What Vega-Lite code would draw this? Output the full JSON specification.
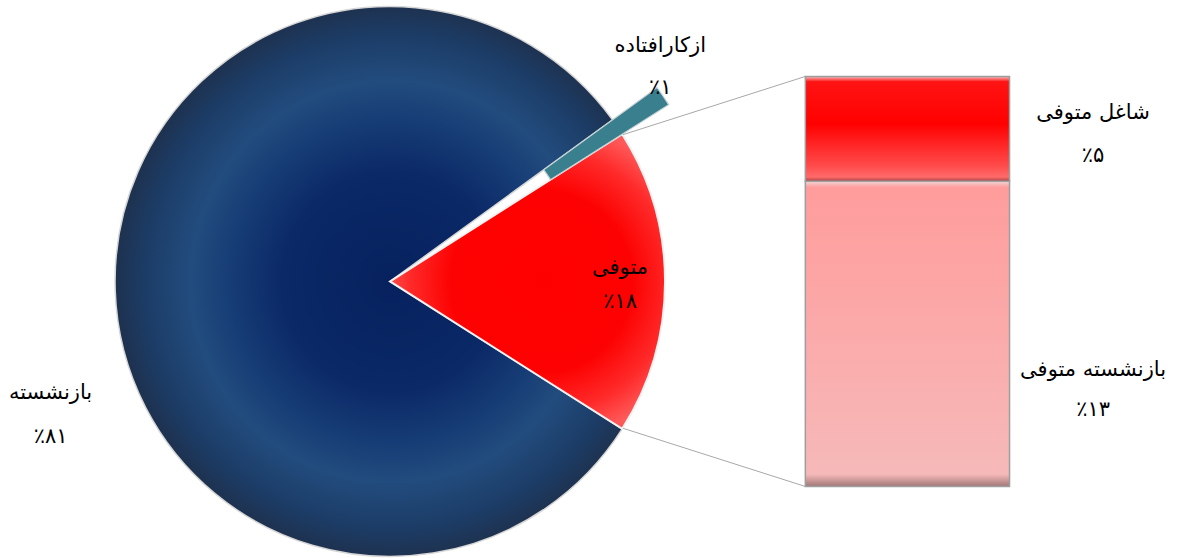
{
  "$schema": "https://vega.github.io/schema/vega-lite/v6.json",
  "width": 1181,
  "height": 558,
  "padding": 0,
  "autosize": {"type": "fit", "contains": "padding"},
  "background": "white",
  "config": {"view": {"stroke": null}, "text": {"font": "DejaVu Sans"}},
  "datasets": {
    "pie": [
      {"name": "ازکارافتاده", "value": 1, "label": "٪۱"},
      {"name": "متوفی", "value": 18, "label": "٪۱۸"},
      {"name": "بازنشسته", "value": 81, "label": "٪۸۱"}
    ],
    "bar": [
      {"name": "بازنشسته متوفی", "value": 13.4, "label": "٪۱۳"},
      {"name": "شاغل متوفی", "value": 4.6, "label": "٪۵"}
    ]
  },
  "layer": [
    {
      "data": {"name": "pie"},
      "transform": [
        {"stack": "value", "groupby": [], "sort": [{"field": "value", "order": "ascending"}], "as": ["t0", "t1"]},
        {"filter": "datum.name === 'بازنشسته'"}
      ],
      "mark": {
        "type": "arc", "outerRadius": 275, "stroke": "#d6d6d6", "strokeWidth": 1.5,
        "fill": {"gradient": "radial", "x1": 0.542, "y1": 0.5, "r1": 0, "x2": 0.542, "y2": 0.5, "r2": 0.5,
          "stops": [
            {"offset": 0, "color": "#06215e"},
            {"offset": 0.4, "color": "#0b2967"},
            {"offset": 0.58, "color": "#163c75"},
            {"offset": 0.73, "color": "#224c7e"},
            {"offset": 0.9, "color": "#1c3c66"},
            {"offset": 1, "color": "#1e3250"}
          ]}
      },
      "encoding": {
        "x": {"datum": 17, "type": "quantitative", "scale": {"domain": [0, 51.473], "nice": false, "zero": false}, "axis": null},
        "y": {"datum": 9, "type": "quantitative", "scale": {"domain": [-2.964, 21.356], "nice": false, "zero": false}, "axis": null},
        "theta": {"field": "t0", "type": "quantitative", "scale": {"domain": [0, 100], "range": [0.9425, 7.2257]}},
        "theta2": {"field": "t1"}
      }
    },
    {
      "data": {"name": "pie"},
      "transform": [
        {"stack": "value", "groupby": [], "sort": [{"field": "value", "order": "ascending"}], "as": ["t0", "t1"]},
        {"filter": "datum.name === 'متوفی'"}
      ],
      "mark": {
        "type": "arc", "outerRadius": 275, "stroke": "#f2f2f2", "strokeWidth": 2,
        "fill": {"gradient": "radial", "x1": 0.547, "y1": 0.5, "r1": 0, "x2": 0.547, "y2": 0.5, "r2": 0.62,
          "stops": [
            {"offset": 0, "color": "#ff0000"},
            {"offset": 0.5, "color": "#fd0202"},
            {"offset": 0.72, "color": "#ff2a2a"},
            {"offset": 0.88, "color": "#ff5a5a"},
            {"offset": 1, "color": "#f04848"}
          ]}
      },
      "encoding": {
        "x": {"datum": 17, "type": "quantitative", "scale": {"domain": [0, 51.473], "nice": false, "zero": false}, "axis": null},
        "y": {"datum": 9, "type": "quantitative", "scale": {"domain": [-2.964, 21.356], "nice": false, "zero": false}, "axis": null},
        "theta": {"field": "t0", "type": "quantitative", "scale": {"domain": [0, 100], "range": [0.9425, 7.2257]}},
        "theta2": {"field": "t1"}
      }
    },
    {
      "data": {"name": "pie"},
      "transform": [
        {"stack": "value", "groupby": [], "sort": [{"field": "value", "order": "ascending"}], "as": ["t0", "t1"]},
        {"filter": "datum.name === 'ازکارافتاده'"}
      ],
      "mark": {"type": "arc", "outerRadius": 330, "innerRadius": 190, "fill": "#3a7f8e", "stroke": "#c9d3d6", "strokeWidth": 1.2},
      "encoding": {
        "x": {"datum": 17, "type": "quantitative", "scale": {"domain": [0, 51.473], "nice": false, "zero": false}, "axis": null},
        "y": {"datum": 9, "type": "quantitative", "scale": {"domain": [-2.964, 21.356], "nice": false, "zero": false}, "axis": null},
        "theta": {"field": "t0", "type": "quantitative", "scale": {"domain": [0, 100], "range": [0.9425, 7.2257]}},
        "theta2": {"field": "t1"}
      }
    },
    {
      "data": {"name": "pie"},
      "transform": [
        {"stack": "value", "groupby": [], "sort": [{"field": "value", "order": "ascending"}], "as": ["t0", "t1"]},
        {"filter": "datum.name === 'متوفی'"},
        {"fold": ["t0", "t1"], "as": ["edge", "t"]},
        {"calculate": "0.9425 + 2 * PI * datum.t / 100", "as": "ang"},
        {"calculate": "17 + 12.03 * sin(datum.ang)", "as": "px"},
        {"calculate": "9 + 12.03 * cos(datum.ang)", "as": "py"},
        {"calculate": "datum.edge === 't0' ? datum.value : 0", "as": "by"}
      ],
      "mark": {"type": "rule", "color": "#a8a8a8", "strokeWidth": 1},
      "encoding": {
        "x": {"field": "px", "type": "quantitative", "scale": {"domain": [0, 51.473], "nice": false, "zero": false}, "axis": null},
        "y": {"field": "py", "type": "quantitative", "scale": {"domain": [-2.964, 21.356], "nice": false, "zero": false}, "axis": null},
        "x2": {"datum": 35.1},
        "y2": {"field": "by"}
      }
    },
    {
      "data": {"name": "bar"},
      "transform": [
        {"stack": "value", "groupby": [], "sort": [{"field": "value", "order": "descending"}], "as": ["b0", "b1"]},
        {"filter": "datum.name === 'بازنشسته متوفی'"}
      ],
      "mark": {
        "type": "rect", "stroke": "#9e9e9e", "strokeWidth": 1.5,
        "fill": {"gradient": "linear", "x1": 0, "y1": 0, "x2": 0, "y2": 1,
          "stops": [
            {"offset": 0, "color": "#eed6d6"},
            {"offset": 0.02, "color": "#ff9c9c"},
            {"offset": 0.5, "color": "#fbaaaa"},
            {"offset": 0.96, "color": "#f6b9b9"},
            {"offset": 1, "color": "#a07676"}
          ]}
      },
      "encoding": {
        "x": {"datum": 35.1, "type": "quantitative", "scale": {"domain": [0, 51.473], "nice": false, "zero": false}, "axis": null},
        "x2": {"datum": 44},
        "y": {"field": "b0", "type": "quantitative", "scale": {"domain": [-2.964, 21.356], "nice": false, "zero": false}, "axis": null},
        "y2": {"field": "b1"}
      }
    },
    {
      "data": {"name": "bar"},
      "transform": [
        {"stack": "value", "groupby": [], "sort": [{"field": "value", "order": "descending"}], "as": ["b0", "b1"]},
        {"filter": "datum.name === 'شاغل متوفی'"}
      ],
      "mark": {
        "type": "rect", "stroke": "#9e9e9e", "strokeWidth": 1.5,
        "fill": {"gradient": "linear", "x1": 0, "y1": 0, "x2": 0, "y2": 1,
          "stops": [
            {"offset": 0, "color": "#f4c0c0"},
            {"offset": 0.05, "color": "#ff1414"},
            {"offset": 0.45, "color": "#ff0000"},
            {"offset": 0.85, "color": "#ff4a4a"},
            {"offset": 0.96, "color": "#ff6a6a"},
            {"offset": 1, "color": "#a84040"}
          ]}
      },
      "encoding": {
        "x": {"datum": 35.1, "type": "quantitative", "scale": {"domain": [0, 51.473], "nice": false, "zero": false}, "axis": null},
        "x2": {"datum": 44},
        "y": {"field": "b0", "type": "quantitative", "scale": {"domain": [-2.964, 21.356], "nice": false, "zero": false}, "axis": null},
        "y2": {"field": "b1"}
      }
    },
    {
      "data": {"name": "pie"},
      "transform": [
        {"stack": "value", "groupby": [], "sort": [{"field": "value", "order": "ascending"}], "as": ["t0", "t1"]},
        {"calculate": "(datum.t0 + datum.t1) / 2", "as": "mid"},
        {"calculate": "datum.name + '\\n' + datum.label", "as": "txt"},
        {"filter": "datum.name === 'ازکارافتاده'"}
      ],
      "mark": {"type": "text", "radius": 347, "thetaOffset": -0.0812, "dy": -18, "lineBreak": "\n", "lineHeight": 42, "fontSize": 21, "align": "center", "baseline": "middle", "color": "#000000"},
      "encoding": {
        "x": {"datum": 17, "type": "quantitative", "scale": {"domain": [0, 51.473], "nice": false, "zero": false}, "axis": null},
        "y": {"datum": 9, "type": "quantitative", "scale": {"domain": [-2.964, 21.356], "nice": false, "zero": false}, "axis": null},
        "theta": {"field": "mid", "type": "quantitative", "scale": {"domain": [0, 100], "range": [0.9425, 7.2257]}},
        "text": {"field": "txt"}
      }
    },
    {
      "data": {"name": "pie"},
      "transform": [
        {"stack": "value", "groupby": [], "sort": [{"field": "value", "order": "ascending"}], "as": ["t0", "t1"]},
        {"calculate": "(datum.t0 + datum.t1) / 2", "as": "mid"},
        {"calculate": "datum.name + '\\n' + datum.label", "as": "txt"},
        {"filter": "datum.name === 'متوفی'"}
      ],
      "mark": {"type": "text", "radius": 230, "dy": -13, "lineBreak": "\n", "lineHeight": 34, "fontSize": 21, "align": "center", "baseline": "middle", "color": "#000000"},
      "encoding": {
        "x": {"datum": 17, "type": "quantitative", "scale": {"domain": [0, 51.473], "nice": false, "zero": false}, "axis": null},
        "y": {"datum": 9, "type": "quantitative", "scale": {"domain": [-2.964, 21.356], "nice": false, "zero": false}, "axis": null},
        "theta": {"field": "mid", "type": "quantitative", "scale": {"domain": [0, 100], "range": [0.9425, 7.2257]}},
        "text": {"field": "txt"}
      }
    },
    {
      "data": {"name": "pie"},
      "transform": [
        {"stack": "value", "groupby": [], "sort": [{"field": "value", "order": "ascending"}], "as": ["t0", "t1"]},
        {"calculate": "(datum.t0 + datum.t1) / 2", "as": "mid"},
        {"calculate": "datum.name + '\\n' + datum.label", "as": "txt"},
        {"filter": "datum.name === 'بازنشسته'"}
      ],
      "mark": {"type": "text", "radius": 364, "thetaOffset": -0.3376, "dy": -20, "lineBreak": "\n", "lineHeight": 44, "fontSize": 21, "align": "center", "baseline": "middle", "color": "#000000"},
      "encoding": {
        "x": {"datum": 17, "type": "quantitative", "scale": {"domain": [0, 51.473], "nice": false, "zero": false}, "axis": null},
        "y": {"datum": 9, "type": "quantitative", "scale": {"domain": [-2.964, 21.356], "nice": false, "zero": false}, "axis": null},
        "theta": {"field": "mid", "type": "quantitative", "scale": {"domain": [0, 100], "range": [0.9425, 7.2257]}},
        "text": {"field": "txt"}
      }
    },
    {
      "data": {"name": "bar"},
      "transform": [
        {"stack": "value", "groupby": [], "sort": [{"field": "value", "order": "descending"}], "as": ["b0", "b1"]},
        {"calculate": "(datum.b0 + datum.b1) / 2", "as": "mid"},
        {"calculate": "datum.name + '\\n' + datum.label", "as": "txt"},
        {"filter": "datum.name === 'شاغل متوفی'"}
      ],
      "mark": {"type": "text", "dy": -16, "lineBreak": "\n", "lineHeight": 43, "fontSize": 21, "align": "center", "baseline": "middle", "color": "#000000"},
      "encoding": {
        "x": {"datum": 47.64, "type": "quantitative", "scale": {"domain": [0, 51.473], "nice": false, "zero": false}, "axis": null},
        "y": {"field": "mid", "type": "quantitative", "scale": {"domain": [-2.964, 21.356], "nice": false, "zero": false}, "axis": null},
        "text": {"field": "txt"}
      }
    },
    {
      "data": {"name": "bar"},
      "transform": [
        {"stack": "value", "groupby": [], "sort": [{"field": "value", "order": "descending"}], "as": ["b0", "b1"]},
        {"calculate": "(datum.b0 + datum.b1) / 2", "as": "mid"},
        {"calculate": "datum.name + '\\n' + datum.label", "as": "txt"},
        {"filter": "datum.name === 'بازنشسته متوفی'"}
      ],
      "mark": {"type": "text", "dy": 36, "lineBreak": "\n", "lineHeight": 40, "fontSize": 21, "align": "center", "baseline": "middle", "color": "#000000"},
      "encoding": {
        "x": {"datum": 47.64, "type": "quantitative", "scale": {"domain": [0, 51.473], "nice": false, "zero": false}, "axis": null},
        "y": {"field": "mid", "type": "quantitative", "scale": {"domain": [-2.964, 21.356], "nice": false, "zero": false}, "axis": null},
        "text": {"field": "txt"}
      }
    }
  ]
}
